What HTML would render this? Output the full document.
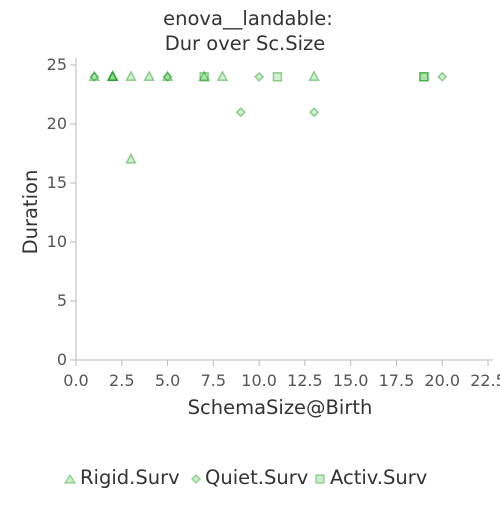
<!DOCTYPE html>
<html><head><meta charset="utf-8"><style>
body{margin:0;background:#fff;font-family:"Liberation Sans","DejaVu Sans",sans-serif}
</style></head><body>
<svg id="c" width="500" height="500" style="font-family:'DejaVu Sans','Liberation Sans',sans-serif">
<text x="248" y="25" text-anchor="middle" font-size="19.5" fill="#333">enova__landable:</text>
<text x="245" y="50" text-anchor="middle" font-size="19.5" fill="#333">Dur over Sc.Size</text>
<g id="axes"></g><g id="marks"></g>
<text x="280" y="414" text-anchor="middle" font-size="19.5" fill="#333">SchemaSize@Birth</text>
<text transform="translate(37,212) rotate(-90)" text-anchor="middle" font-size="19.5" fill="#333">Duration</text>
<g font-size="19.5" fill="#333">
<polygon points="70,475 65,483 75,483" fill="rgba(0,160,0,0.2)" stroke="rgba(0,150,0,0.35)" stroke-width="1.5"/>
<text x="80" y="484">Rigid.Surv</text>
<polygon points="196,475 200,479 196,483 192,479" fill="rgba(0,160,0,0.2)" stroke="rgba(0,150,0,0.35)" stroke-width="1.5"/>
<text x="205" y="484">Quiet.Surv</text>
<rect x="316" y="475" width="8" height="8" fill="rgba(0,160,0,0.2)" stroke="rgba(0,150,0,0.35)" stroke-width="1.5"/>
<text x="330" y="484">Activ.Surv</text>
</g>
</svg>
<script>
const xTicks=[0,2.5,5,7.5,10,12.5,15,17.5,20,22.5];
const yTicks=[0,5,10,15,20,25];
const rigidX=[1,2,2,2,3,3,4,5,7,8,13];
const rigidY=[24,24,24,24,24,17,24,24,24,24,24];
const quietX=[1,5,9,10,13,20];
const quietY=[24,24,21,24,21,24];
const activX=[7,11,19,19];
const activY=[24,24,24,24];
const NS='http://www.w3.org/2000/svg';
const X0=76,X1=488,Y0=360,Y1=65;
const sx=v=>X0+(v-0)/(22.5)*(X1-X0);
const sy=v=>Y0-(v/25)*(Y0-Y1);
const ax=document.getElementById('axes'),mk=document.getElementById('marks');
function el(t,a,p){const e=document.createElementNS(NS,t);for(const k in a)e.setAttribute(k,a[k]);p.appendChild(e);return e;}
let l=el('line',{x1:X0,y1:58,x2:X0,y2:Y0,stroke:'#bbb'},ax);


l=el('line',{x1:X0,y1:Y0,x2:X1+5,y2:Y0,stroke:'#bbb'},ax);


xTicks.forEach(v=>{const x=sx(v);el('line',{x1:x,y1:Y0,x2:x,y2:Y0+6,stroke:'#bbb'},ax);
const t=el('text',{x:x,y:Y0+26,'text-anchor':'middle','font-size':'16',fill:'#555'},ax);t.textContent=v.toFixed(1);

});
yTicks.forEach(v=>{const y=sy(v);el('line',{x1:X0-6,y1:y,x2:X0,y2:y,stroke:'#bbb'},ax);
const t=el('text',{x:X0-9,y:y+5,'text-anchor':'end','font-size':'16',fill:'#555'},ax);t.textContent=v;

});
const F='rgba(0,170,0,0.18)',S='rgba(0,140,0,0.4)';
rigidX.forEach((v,i)=>{const x=sx(v),y=sy(rigidY[i]);
const p=el('polygon',{points:`${x},${y-5} ${x-4.5},${y+3.5} ${x+4.5},${y+3.5}`,fill:F,stroke:S,'stroke-width':1.5},mk);

});
quietX.forEach((v,i)=>{const x=sx(v),y=sy(quietY[i]);
const p=el('polygon',{points:`${x},${y-4} ${x+4},${y} ${x},${y+4} ${x-4},${y}`,fill:F,stroke:S,'stroke-width':1.5},mk);

});
activX.forEach((v,i)=>{const x=sx(v),y=sy(activY[i]);
const p=el('rect',{x:x-4,y:y-4,width:8,height:8,fill:F,stroke:S,'stroke-width':1.5},mk);

});
</script>
</body></html>
